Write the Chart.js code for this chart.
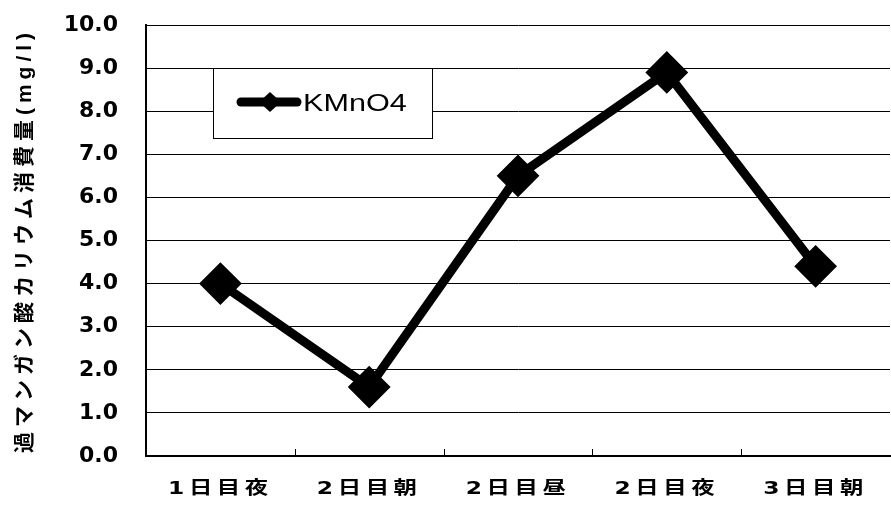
<!DOCTYPE html>
<html>
<head>
<meta charset="utf-8">
<script src="https://cdn.jsdelivr.net/npm/chart.js@4/dist/chart.umd.min.js"></script>
<style>
  html, body { margin: 0; padding: 0; background: #ffffff; overflow: hidden; }
  #wrap { width: 891px; height: 507px; position: relative; }
  #chart { display: block; }
</style>
</head>
<body>
<div id="wrap"><canvas id="chart"></canvas></div>
<script>
// Sampling times and permanganate consumption (mg/l)
const categories = ['1日目夜', '2日目朝', '2日目昼', '2日目夜', '3日目朝'];
const kmno4Values = [4.0, 1.6, 6.5, 8.9, 4.4];
const seriesName = 'KMnO4';
const yAxisTitle = '過マンガン酸カリウム消費量(mg/l)';
const yMin = 0;
const yMax = 10;
const yStep = 1;

const CJK = '"Noto Sans CJK JP"';
const CLEAR = 'rgba(0,0,0,0)';

// Expanded lettering for the category labels and spaced axis title
const letterSpacingPlugin = {
  id: 'letterSpacing',
  beforeDraw(chart, args, opts) {
    const xs = chart.scales.x;
    const ys = chart.scales.y;
    if (xs && !xs.__spaced) {
      const drawLabels = xs.drawLabels.bind(xs);
      xs.drawLabels = function (area) {
        const ctx = this.ctx;
        const rotate = ctx.rotate;
        ctx.save();
        ctx.letterSpacing = opts.xLabels;
        // each label is translated then rotated by 0; widen it at that point
        ctx.rotate = function (a) {
          rotate.call(ctx, a);
          ctx.scale(opts.xStretch, 1);
        };
        try { drawLabels(area); } finally {
          ctx.rotate = rotate;
          ctx.restore();
        }
      };
      xs.__spaced = true;
    }
    if (ys && !ys.__spaced) {
      const drawTitle = ys.drawTitle.bind(ys);
      ys.drawTitle = function () {
        const ctx = this.ctx;
        ctx.save();
        ctx.letterSpacing = opts.yTitle;
        drawTitle();
        ctx.restore();
      };
      ys.__spaced = true;
    }
  }
};

// Short inward tick marks on the category axis
const innerTicks = {
  id: 'innerTicks',
  afterDraw(chart, args, opts) {
    const ctx = chart.ctx;
    const xs = chart.scales.x;
    const area = chart.chartArea;
    ctx.save();
    ctx.strokeStyle = '#000';
    ctx.lineWidth = 1;
    ctx.beginPath();
    for (let i = 0; i < categories.length - 1; i++) {
      const px = Math.round((xs.getPixelForValue(i) + xs.getPixelForValue(i + 1)) / 2) + 0.5;
      ctx.moveTo(px, area.bottom);
      ctx.lineTo(px, area.bottom - opts.length);
    }
    ctx.stroke();
    ctx.restore();
  }
};

// Framed legend placed inside the plot area
const insetLegend = {
  id: 'insetLegend',
  afterDatasetsDraw(chart, args, opts) {
    const ctx = chart.ctx;
    const ds = chart.data.datasets[0];
    const { x, y, w, h } = opts;
    ctx.save();
    ctx.fillStyle = '#ffffff';
    ctx.fillRect(x, y, w, h);
    ctx.strokeStyle = '#000';
    ctx.lineWidth = 1;
    ctx.strokeRect(x + 0.5, y + 0.5, w, h);

    const cy = y + 34;
    ctx.strokeStyle = ds.borderColor;
    ctx.lineWidth = 9;
    ctx.lineCap = 'round';
    ctx.beginPath();
    ctx.moveTo(x + 28, cy);
    ctx.lineTo(x + 84, cy);
    ctx.stroke();

    const mx = x + 57;
    ctx.fillStyle = ds.pointBackgroundColor;
    ctx.beginPath();
    ctx.moveTo(mx, cy - 10);
    ctx.lineTo(mx + 11, cy);
    ctx.lineTo(mx, cy + 10);
    ctx.lineTo(mx - 11, cy);
    ctx.closePath();
    ctx.fill();

    ctx.fillStyle = '#000';
    ctx.font = '23px "Liberation Sans", Arial, sans-serif';
    ctx.textBaseline = 'middle';
    ctx.textAlign = 'left';
    ctx.translate(x + 90, cy + 3);
    ctx.scale(1.33, 1);
    ctx.fillText(ds.label, 0, 0);
    ctx.restore();
  }
};

new Chart(document.getElementById('chart'), {
  type: 'line',
  data: {
    labels: categories,
    datasets: [{
      label: seriesName,
      data: kmno4Values,
      borderColor: '#000000',
      backgroundColor: '#000000',
      borderWidth: 9,
      tension: 0,
      pointStyle: 'rectRot',
      pointRadius: 20,
      pointHoverRadius: 20,
      pointBackgroundColor: '#000000',
      pointBorderColor: '#000000',
      pointBorderWidth: 2,
      clip: 30
    }]
  },
  options: {
    responsive: true,
    maintainAspectRatio: false,
    animation: false,
    events: [],
    layout: { autoPadding: false, padding: { left: 0, right: 1, top: 25, bottom: 0 } },
    plugins: {
      legend: { display: false },
      tooltip: { enabled: false },
      letterSpacing: { xLabels: '3.5px', xStretch: 1.3, yTitle: '5px' },
      innerTicks: { length: 7 },
      insetLegend: { x: 213, y: 68, w: 219, h: 70 }
    },
    scales: {
      x: {
        offset: true,
        grid: { display: true, drawOnChartArea: false, offset: true, drawTicks: true, tickLength: 23, tickColor: CLEAR },
        border: { display: true, color: '#000000', width: 2 },
        ticks: {
          color: '#000000',
          padding: 0,
          font: { family: '"DejaVu Sans", ' + CJK, size: 18, weight: 'bold' }
        },
        afterFit(scale) {
          scale.height = 51;
          // plot runs right up to the canvas edge
          scale.paddingLeft = 0;
          scale.paddingRight = 0;
        }
      },
      y: {
        min: yMin,
        max: yMax,
        grid: { color: '#000000', lineWidth: 1, drawTicks: true, tickLength: 28, tickColor: CLEAR },
        border: { display: true, color: '#000000', width: 2 },
        ticks: {
          stepSize: yStep,
          color: '#000000',
          padding: 0,
          font: { family: '"DejaVu Sans"', size: 22, weight: 'bold' },
          callback: (v) => Number(v).toFixed(1)
        },
        title: {
          display: true,
          text: yAxisTitle,
          color: '#000000',
          padding: { top: 13, bottom: 0 },
          font: { family: '"Liberation Sans", ' + CJK, size: 21, weight: 'bold' }
        },
        afterFit(scale) { scale.width = 146; }
      }
    }
  },
  plugins: [letterSpacingPlugin, innerTicks, insetLegend]
});
</script>
</body>
</html>
